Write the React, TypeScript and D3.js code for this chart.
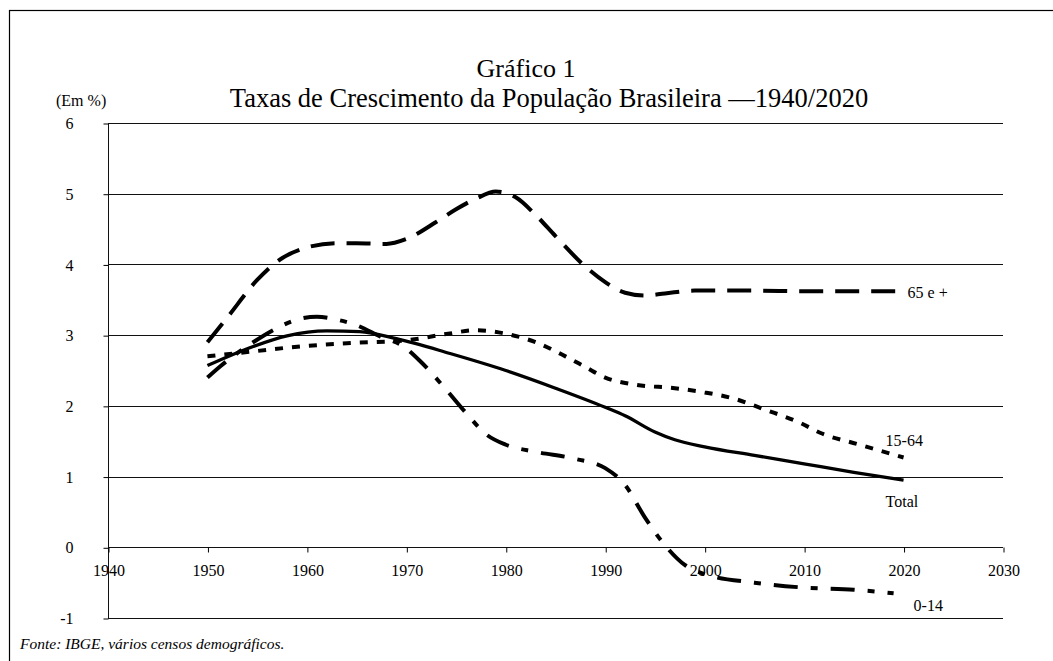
import React, { useEffect, useRef } from "react";
import * as d3 from "d3";

const xTicks = [1940, 1950, 1960, 1970, 1980, 1990, 2000, 2010, 2020, 2030];
const yTicks = [-1, 0, 1, 2, 3, 4, 5, 6];

const years65 = [1950, 1952, 1955, 1957, 1960, 1963, 1965, 1968, 1970, 1973, 1975, 1977, 1979, 1981, 1983, 1985, 1988, 1990, 1992, 1994, 1996, 1999, 2005, 2010, 2015, 2020];
const vals65 = [2.9, 3.25, 3.78, 4.04, 4.24, 4.3, 4.3, 4.29, 4.36, 4.6, 4.78, 4.93, 5.03, 4.95, 4.7, 4.4, 3.97, 3.75, 3.6, 3.56, 3.59, 3.63, 3.63, 3.62, 3.62, 3.62];

const years014 = [1950, 1951.3, 1954.6, 1957, 1959, 1961, 1963, 1965, 1967.4, 1969.7, 1971.4, 1974, 1976, 1978, 1980, 1983, 1987, 1990, 1992, 1994, 1996, 1998, 2000, 2005, 2010, 2015, 2019];
const vals014 = [2.4, 2.56, 2.9, 3.1, 3.22, 3.26, 3.22, 3.14, 2.98, 2.84, 2.63, 2.23, 1.9, 1.6, 1.45, 1.35, 1.25, 1.12, 0.88, 0.42, 0.03, -0.25, -0.38, -0.5, -0.57, -0.6, -0.65];

const years1564 = [1950, 1954.6, 1959.3, 1964.7, 1970.2, 1974.2, 1977, 1980, 1983, 1986, 1988, 1990, 1993, 1997, 2000, 2003, 2006, 2009.6, 2011.6, 2015.6, 2020];
const vals1564 = [2.7, 2.77, 2.84, 2.89, 2.93, 3.02, 3.07, 3.02, 2.9, 2.7, 2.55, 2.4, 2.3, 2.25, 2.19, 2.1, 1.95, 1.76, 1.62, 1.45, 1.27];

const yearsTotal = [1950, 1954.6, 1958, 1962, 1965.3, 1969, 1974.4, 1980, 1985, 1990, 1992, 1995, 1997, 2000, 2005, 2010, 2015, 2020];
const valsTotal = [2.57, 2.84, 2.99, 3.06, 3.05, 2.95, 2.74, 2.5, 2.25, 1.98, 1.86, 1.63, 1.52, 1.42, 1.3, 1.18, 1.06, 0.95];

const seriesNames = ["65 e +", "0-14", "15-64", "Total"];

const W = 1053;
const H = 661;
const FONT = "'Liberation Serif', 'Times New Roman', serif";

export default function App() {
  const xAxisRef = useRef<SVGGElement>(null);
  const yAxisRef = useRef<SVGGElement>(null);

  const x = d3.scaleLinear().domain([1940, 2030]).range([108, 1003]);
  const y = d3.scaleLinear().domain([-1, 6]).range([618, 123]);

  const line = (ys: number[], vs: number[]) =>
    d3
      .line<number>()
      .x((_, i) => x(ys[i]))
      .y((v) => y(v))
      .curve(d3.curveMonotoneX)(vs) || "";

  useEffect(() => {
    if (xAxisRef.current) {
      const g = d3.select(xAxisRef.current);
      g.call(
        d3
          .axisBottom(x)
          .tickValues(xTicks)
          .tickSize(5)
          .tickPadding(12)
          .tickFormat((d) => String(d))
      );
      g.attr("font-family", FONT);
      g.select(".domain").remove();
      g.selectAll("text").attr("font-family", FONT).attr("font-size", 16).attr("fill", "#000");
      g.selectAll("line").attr("stroke", "#000");
    }
    if (yAxisRef.current) {
      const g = d3.select(yAxisRef.current);
      g.call(
        d3
          .axisLeft(y)
          .tickValues(yTicks)
          .tickSize(5)
          .tickPadding(30)
          .tickFormat((d) => String(d))
      );
      g.attr("font-family", FONT);
      g.select(".domain").remove();
      g.selectAll("text").attr("font-family", FONT).attr("font-size", 16).attr("fill", "#000");
      g.selectAll("line").attr("stroke", "#000");
    }
  }, []);

  const lastX = (ys: number[]) => x(ys[ys.length - 1]);
  const lastY = (vs: number[]) => y(vs[vs.length - 1]);

  return (
    <svg
      width={W}
      height={H}
      style={{ position: "absolute", left: 0, top: 0, background: "#fff" }}
      fontFamily={FONT}
    >
      <rect x={9.5} y={10.5} width={W + 20} height={H + 20} fill="none" stroke="#000" strokeWidth={1.2} />
      <text x={526} y={77} textAnchor="middle" fontSize={26}>
        Gráfico 1
      </text>
      <text x={549} y={107} textAnchor="middle" fontSize={26.5}>
        Taxas de Crescimento da População Brasileira —1940/2020
      </text>
      <text x={56} y={106} fontSize={16}>
        (Em %)
      </text>

      {yTicks.map((t) => (
        <line
          key={t}
          x1={108}
          x2={1003}
          y1={Math.round(y(t)) + 0.5}
          y2={Math.round(y(t)) + 0.5}
          stroke="#111"
          strokeWidth={1}
        />
      ))}
      <line x1={108.5} x2={108.5} y1={y(6)} y2={y(-1) + 0.5} stroke="#111" strokeWidth={1} />
      <g ref={yAxisRef} transform={`translate(108.5,0.5)`} />
      <g ref={xAxisRef} transform={`translate(0.5,${Math.round(y(0)) + 0.5})`} />

      <path d={line(years65, vals65)} fill="none" stroke="#000" strokeWidth={4} strokeDasharray="24 12" />
      <path d={line(years014, vals014)} fill="none" stroke="#000" strokeWidth={4} strokeDasharray="24 13 7 13" />
      <path d={line(years1564, vals1564)} fill="none" stroke="#000" strokeWidth={4} strokeDasharray="8 9" />
      <path d={line(yearsTotal, valsTotal)} fill="none" stroke="#000" strokeWidth={3.3} />

      <text x={lastX(years65) + 4} y={lastY(vals65) + 7} fontSize={16}>
        {seriesNames[0]}
      </text>
      <text x={lastX(years014) + 20} y={lastY(vals014) + 18} fontSize={16}>
        {seriesNames[1]}
      </text>
      <text x={lastX(years1564) - 18} y={lastY(vals1564) - 11} fontSize={16}>
        {seriesNames[2]}
      </text>
      <text x={lastX(yearsTotal) - 18} y={lastY(valsTotal) + 27} fontSize={16}>
        {seriesNames[3]}
      </text>

      <text x={20} y={649} fontSize={15.5} fontStyle="italic">
        Fonte: IBGE, vários censos demográficos.
      </text>
    </svg>
  );
}
